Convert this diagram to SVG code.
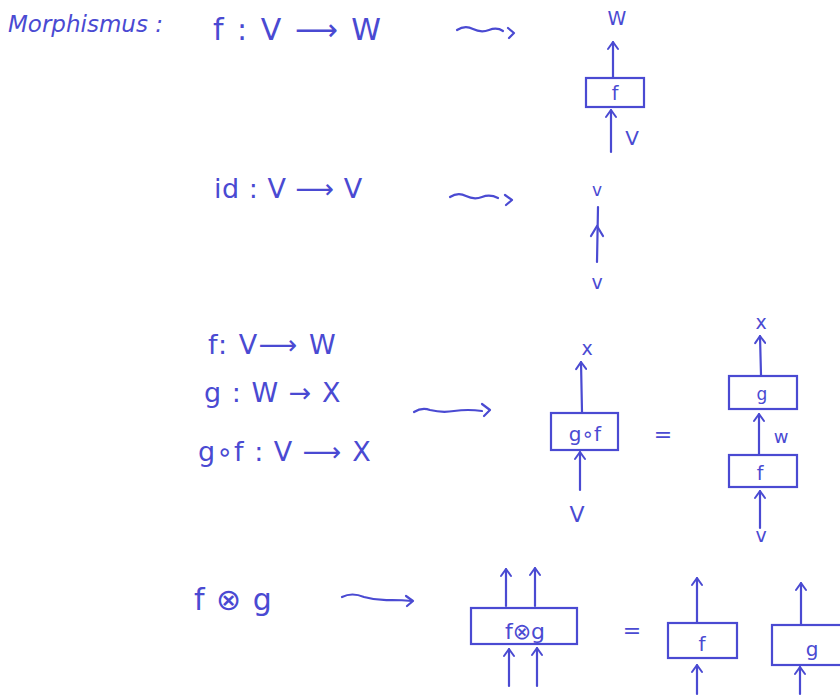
<svg xmlns="http://www.w3.org/2000/svg" width="840" height="696" viewBox="0 0 840 696">
<style>
.t{font-family:"DejaVu Sans","Liberation Sans",sans-serif;fill:#4a4ad2}
.l{font-family:"DejaVu Sans","Liberation Sans",sans-serif;fill:#4a4ad2;text-anchor:middle}
.b{fill:none;stroke:#4a4ad2;stroke-width:2.2}
.c{fill:none;stroke:#4a4ad2;stroke-width:2.2;stroke-linecap:round;stroke-linejoin:round}
</style>
<defs>
<marker id="ah" viewBox="0 0 12 12" refX="10" refY="6" markerWidth="12" markerHeight="12" markerUnits="userSpaceOnUse" orient="auto-start-reverse">
<path d="M3,1 L10,6 L3,11" fill="none" stroke="#4a4ad2" stroke-width="2" stroke-linecap="round" stroke-linejoin="round"/>
</marker>
</defs>
<rect width="840" height="696" fill="#ffffff"/>

<g id="formulas">
<text class="t" x="8" y="32" font-size="23" font-style="italic">Morphismus :</text>
<text class="t" x="213" y="40" font-size="30" letter-spacing="2">f : V ⟶ W</text>
<text class="t" x="214" y="198" font-size="27" letter-spacing="0.5">id : V ⟶ V</text>
<text class="t" x="208" y="354" font-size="27" letter-spacing="1.5">f: V⟶ W</text>
<text class="t" x="204" y="402" font-size="27" letter-spacing="1">g : W → X</text>
<text class="t" x="198" y="461" font-size="27" letter-spacing="1">g∘f : V ⟶ X</text>
<text class="t" x="194" y="610" font-size="30" letter-spacing="1">f ⊗ g</text>
</g>

<g id="connectors">
<path class="c" d="M457,30 q8,-5 16,-1 q8,4 16,1 q8,-3 14,1"/>
<path class="c" d="M508,28 l6,5 l-5,5"/>
<path class="c" d="M450,197 q8,-5 16,-1 q8,4 16,1 q8,-3 16,1"/>
<path class="c" d="M505,195 l7,5 l-6,5"/>
<path class="c" d="M414,412 q8,-5 16,-2 q12,3 24,1 q14,-2 28,0"/>
<path class="c" d="M482,404 l8,6 l-6,6"/>
<path class="c" d="M342,597 q10,-5 22,0 q14,4 28,3 q10,0 20,1"/>
<path class="c" d="M406,596 l7,5 l-6,5"/>

<line class="c" x1="613" y1="77" x2="613" y2="42" marker-end="url(#ah)"/>
<line class="c" x1="611" y1="152" x2="611" y2="110" marker-end="url(#ah)"/>
<line class="c" x1="598" y1="207" x2="597" y2="262"/>
<path class="c" d="M591,236 L597,226 L603,236"/>

<line class="c" x1="582" y1="412" x2="581" y2="362" marker-end="url(#ah)"/>
<line class="c" x1="580" y1="490" x2="580" y2="452" marker-end="url(#ah)"/>
<line class="c" x1="761" y1="375" x2="760" y2="336" marker-end="url(#ah)"/>
<line class="c" x1="759" y1="454" x2="759" y2="414" marker-end="url(#ah)"/>
<line class="c" x1="760" y1="528" x2="760" y2="491" marker-end="url(#ah)"/>

<line class="c" x1="506" y1="606" x2="506" y2="569" marker-end="url(#ah)"/>
<line class="c" x1="535" y1="606" x2="535" y2="568" marker-end="url(#ah)"/>
<line class="c" x1="509" y1="686" x2="509" y2="649" marker-end="url(#ah)"/>
<line class="c" x1="537" y1="686" x2="537" y2="648" marker-end="url(#ah)"/>
<line class="c" x1="697" y1="622" x2="697" y2="578" marker-end="url(#ah)"/>
<line class="c" x1="697" y1="694" x2="697" y2="665" marker-end="url(#ah)"/>
<line class="c" x1="801" y1="624" x2="801" y2="583" marker-end="url(#ah)"/>
<line class="c" x1="800" y1="694" x2="800" y2="667" marker-end="url(#ah)"/>
</g>

<g id="node-f1">
<rect class="b" x="586" y="78" width="58" height="29"/>
<text class="l" x="615" y="100" font-size="19">f</text>
<text class="l" x="617" y="25" font-size="19">W</text>
<text class="l" x="632" y="145" font-size="20">V</text>
</g>

<g id="node-id">
<text class="l" x="597" y="196" font-size="17">v</text>
<text class="l" x="597" y="289" font-size="19">v</text>
</g>

<g id="node-gof">
<rect class="b" x="551" y="413" width="67" height="37"/>
<text class="l" x="585" y="441" font-size="20">g∘f</text>
<text class="l" x="587" y="355" font-size="19">x</text>
<text class="l" x="577" y="522" font-size="22">V</text>
</g>

<g id="eq1"><text class="l" x="663" y="442" font-size="22">=</text></g>

<g id="node-g">
<rect class="b" x="729" y="376" width="68" height="33"/>
<text class="l" x="762" y="400" font-size="17">g</text>
<text class="l" x="761" y="329" font-size="19">x</text>
</g>
<g id="node-f2">
<rect class="b" x="729" y="455" width="68" height="32"/>
<text class="l" x="760" y="480" font-size="19">f</text>
<text class="l" x="781" y="443" font-size="18">w</text>
<text class="l" x="761" y="542" font-size="19">v</text>
</g>

<g id="node-fxg">
<rect class="b" x="471" y="608" width="106" height="36"/>
<text class="l" x="525" y="639" font-size="22">f⊗g</text>
</g>

<g id="eq2"><text class="l" x="632" y="638" font-size="22">=</text></g>

<g id="node-f3">
<rect class="b" x="668" y="623" width="69" height="35"/>
<text class="l" x="702" y="651" font-size="20">f</text>
</g>
<g id="node-g3">
<rect class="b" x="772" y="625" width="70" height="40"/>
<text class="l" x="812" y="656" font-size="20">g</text>
</g>
</svg>
